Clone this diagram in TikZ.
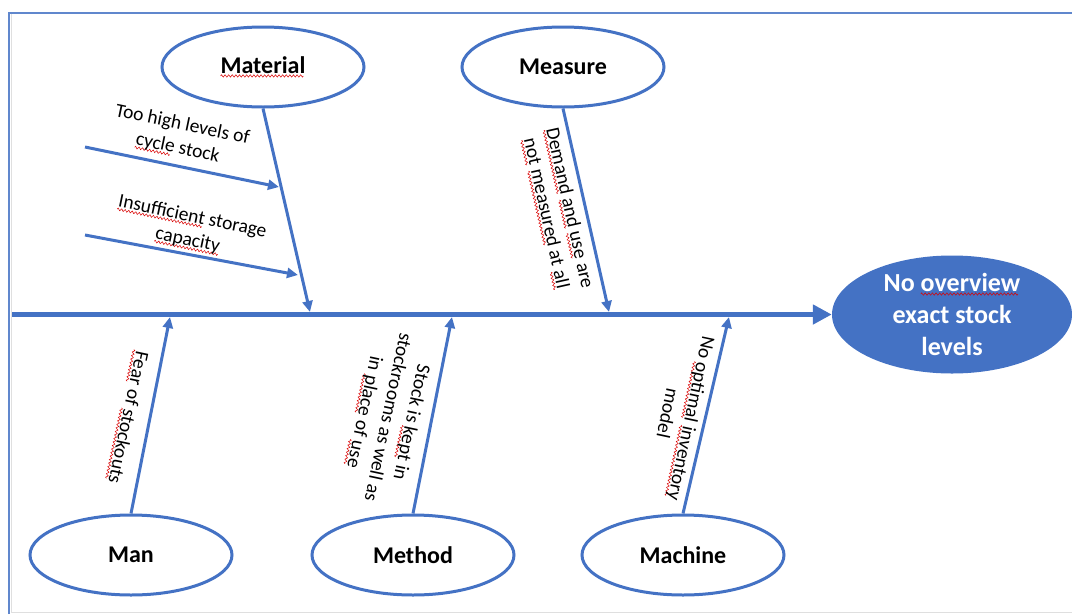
\documentclass[tikz,border=0pt]{standalone}
\usepackage{fontspec}
\setmainfont{Carlito}
\usetikzlibrary{shapes.geometric,arrows.meta}
\definecolor{accent}{HTML}{4472C4}
% red wavy proofing underline, tiled from a small wave box
\newsavebox\wavebox
\newcommand\spellmark[1]{\setbox0\hbox{#1}\rlap{\lower4pt\hbox{\leaders\copy\wavebox\hskip\wd0}}#1}

\begin{document}
\sbox\wavebox{\begin{pgfpicture}%
  \pgfpathmoveto{\pgfpoint{0pt}{0pt}}%
  \pgfpathcurveto{\pgfpoint{0.6pt}{1.6pt}}{\pgfpoint{1.2pt}{1.6pt}}{\pgfpoint{1.8pt}{0pt}}%
  \pgfpathcurveto{\pgfpoint{2.4pt}{-1.6pt}}{\pgfpoint{3pt}{-1.6pt}}{\pgfpoint{3.6pt}{0pt}}%
  \pgfsetcolor{red!85!black}\pgfsetlinewidth{0.5pt}\pgfusepath{stroke}%
  \pgfresetboundingbox
  \pgfpathrectangle{\pgfpoint{0pt}{-1.5pt}}{\pgfpoint{3.6pt}{3pt}}%
  \pgfusepath{use as bounding box}%
\end{pgfpicture}}%
\begin{tikzpicture}[x=1pt,y=-1pt,
  cat/.style={ellipse,draw=accent,line width=3pt,minimum width=202pt,minimum height=80pt,
    inner sep=0pt,font=\fontsize{24}{28}\selectfont\bfseries},
  effect/.style={ellipse,fill=accent,minimum width=240pt,minimum height=118pt,inner sep=0pt,
    text=white,align=center,font=\fontsize{26}{32}\selectfont\bfseries},
  bone/.style={draw=accent,line width=3pt,-{Triangle[length=11pt,width=10pt]}},
  spine/.style={draw=accent,line width=5.5pt,-{Triangle[length=19pt,width=19pt]}},
  cause/.style={align=center,font=\fontsize{19.5}{24}\selectfont,inner sep=0pt},
]
\useasboundingbox (0,0) rectangle (1072,614);

% window frame
\draw[gray!25,line width=1.5pt] (11.5,14) -- (11.5,612.5) -- (1072,612.5);
\draw[accent!85,line width=2pt] (8.5,614) -- (8.5,12.5) -- (1072,12.5);

% categories and effect
\node[cat] (material) at (263,67) {\spellmark{Material}};
\node[cat] (measure) at (563,67) {Measure};
\node[cat] (man) at (131,555) {Man};
\node[cat] (method) at (413,555) {Method};
\node[cat] (machine) at (683,555) {Machine};
\node[effect] (effect) at (952,314.5) {No \spellmark{overview}\\exact stock\\levels};

% spine
\coordinate (tail) at (12,314.5);
\draw[spine] (tail) -- (effect.west);

% main bones
\coordinate (tipMaterial) at (310,312);
\coordinate (tipMeasure) at (609,312);
\coordinate (tipMan) at (170,317);
\coordinate (tipMethod) at (452,317);
\coordinate (tipMachine) at (729,317);
\draw[bone] (material.south) -- (tipMaterial);
\draw[bone] (measure.south) -- (tipMeasure);
\draw[bone] (man.north) -- (tipMan);
\draw[bone] (method.north) -- (tipMethod);
\draw[bone] (machine.north) -- (tipMachine);

% sub-causes on the material bone
\coordinate (subA) at (85,147);
\coordinate (subAend) at (279,187);
\coordinate (subB) at (85,235);
\coordinate (subBend) at (298,275);
\draw[bone] (subA) -- (subAend);
\draw[bone] (subB) -- (subBend);

% cause labels
\node[cause,rotate=-11.7] (causeA) at (180,137) {Too high levels of\\\spellmark{cycle} stock};
\node[cause,rotate=-11.7] (causeB) at (190,229) {\spellmark{Insufficient} storage\\\spellmark{capacity}};
\node[cause,rotate=-77.4] (causeC) at (557,211)
  {\spellmark{Demand} \spellmark{and} \spellmark{use} are\\\spellmark{not} \spellmark{measured} at \spellmark{all}};
\node[cause,rotate=-102] (causeD) at (127,417) {\spellmark{Fear} of \spellmark{stockouts}};
\node[cause,rotate=-102] (causeE) at (387,417)
  {Stock is \spellmark{kept} in\\stockrooms as well as\\in \spellmark{place} of \spellmark{use}};
\node[cause,rotate=-102] (causeF) at (680,416) {No \spellmark{optimal} \spellmark{inventory}\\model};
\end{tikzpicture}
\end{document}
